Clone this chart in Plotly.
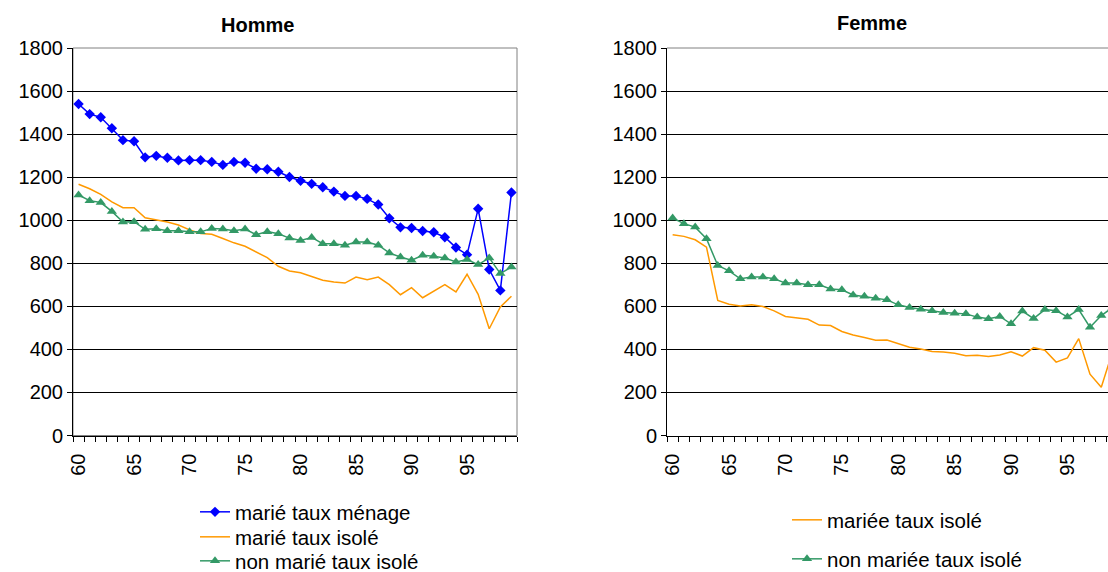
import plotly.graph_objects as go

W, H = 1108, 572

ages = list(range(60, 100))
tick_labels = ["60", "65", "70", "75", "80", "85", "90", "95"]
tick_vals = [60, 65, 70, 75, 80, 85, 90, 95]

homme_marie_menage = [1540, 1493, 1478, 1427, 1372, 1367, 1292, 1299, 1290, 1278,
                      1279, 1279, 1271, 1257, 1271, 1267, 1239, 1237, 1225, 1201,
                      1183, 1169, 1153, 1133, 1113, 1113, 1099, 1073, 1009, 967,
                      964, 950, 944, 921, 873, 840, 1053, 771, 674, 1129]
homme_marie_isole = [1167, 1146, 1120, 1085, 1058, 1058, 1011, 1003, 992, 978,
                     955, 938, 935, 915, 895, 879, 853, 826, 786, 764,
                     756, 738, 721, 713, 708, 736, 724, 736, 701, 654,
                     687, 640, 670, 701, 667, 749, 656, 496, 597, 647]
homme_non_marie_isole = [1117, 1091, 1082, 1041, 992, 993, 958, 960, 951, 951,
                         946, 946, 961, 959, 951, 959, 933, 947, 937, 917,
                         906, 920, 891, 891, 884, 899, 899, 884, 848, 829,
                         814, 837, 833, 825, 806, 817, 794, 825, 752, 783]

femme_mariee_isole = [933, 925, 909, 875, 627, 610, 602, 607, 599, 579,
                      553, 547, 540, 513, 511, 483, 467, 455, 443, 444,
                      426, 410, 402, 390, 388, 382, 370, 373, 367, 374,
                      389, 369, 408, 396, 341, 360, 450, 285, 224, 390]
femme_non_mariee_isole = [1010, 984, 968, 914, 790, 765, 728, 736, 736, 728,
                          708, 708, 700, 700, 681, 677, 653, 647, 638, 630,
                          607, 595, 587, 579, 571, 568, 565, 550, 542, 553,
                          519, 578, 543, 585, 580, 551, 585, 503, 557, 595]

BLUE = "#0000FF"
ORANGE = "#FF9900"
GREEN = "#339966"
FONT = "Liberation Sans, Arial, sans-serif"
FS = 20
LFS = 20.5

fig = go.Figure()

fig.add_trace(go.Scatter(x=ages, y=homme_marie_menage, name="marié taux ménage",
                         mode="lines+markers", line=dict(color=BLUE, width=1.5),
                         marker=dict(symbol="diamond", size=8, color=BLUE),
                         xaxis="x", yaxis="y", legend="legend", showlegend=True))
fig.add_trace(go.Scatter(x=ages, y=homme_marie_isole, name="marié taux isolé",
                         mode="lines", line=dict(color=ORANGE, width=1.5),
                         xaxis="x", yaxis="y", legend="legend3", showlegend=True))
fig.add_trace(go.Scatter(x=ages, y=homme_non_marie_isole, name="non marié taux isolé",
                         mode="lines+markers", line=dict(color=GREEN, width=1.5),
                         marker=dict(symbol="triangle-up", size=9, color=GREEN),
                         xaxis="x", yaxis="y", legend="legend4", showlegend=True))

fig.add_trace(go.Scatter(x=ages, y=femme_mariee_isole, name="mariée taux isolé",
                         mode="lines", line=dict(color=ORANGE, width=1.5),
                         xaxis="x2", yaxis="y2", legend="legend2", showlegend=True))
fig.add_trace(go.Scatter(x=ages, y=femme_non_mariee_isole, name="non mariée taux isolé",
                         mode="lines+markers", line=dict(color=GREEN, width=1.5),
                         marker=dict(symbol="triangle-up", size=9, color=GREEN),
                         xaxis="x2", yaxis="y2", legend="legend5", showlegend=True))

ydom = [1 - 435.5 / H, 1 - 48 / H]

def xaxis_cfg(domain, rng):
    return dict(domain=domain, range=rng, showgrid=False, zeroline=False,
                showline=True, linecolor="black", linewidth=1,
                tickmode="array", tickvals=tick_vals, ticktext=tick_labels,
                ticks="", tickangle=-90, ticklabelstandoff=9,
                tickfont=dict(family=FONT, size=FS, color="black"),
                minor=dict(tickmode="linear", tick0=59.5, dtick=1, ticks="outside",
                           ticklen=5, tickcolor="black", tickwidth=1, showgrid=False))

def yaxis_cfg(anchor):
    return dict(domain=ydom, range=[0, 1800], dtick=200, tick0=0, anchor=anchor,
                showgrid=True, gridcolor="black", gridwidth=1, zeroline=False,
                showline=True, linecolor="black", linewidth=1,
                ticks="outside", ticklen=5, tickcolor="black",
                tickfont=dict(family=FONT, size=FS, color="black"))

def leg(xpx, ypx):
    return dict(x=xpx / W, y=1 - ypx / H, xanchor="left", yanchor="middle",
                font=dict(family=FONT, size=LFS, color="black"),
                bgcolor="rgba(0,0,0,0)", borderwidth=0, visible=True)

fig.update_layout(
    width=W, height=H, autosize=False, showlegend=True,
    margin=dict(l=0, r=0, t=0, b=0, pad=0, autoexpand=False),
    paper_bgcolor="white", plot_bgcolor="white",
    font=dict(family=FONT, size=FS, color="black"),
    xaxis=dict(**xaxis_cfg([73 / W, 517 / W], [59.5, 99.5]), anchor="y"),
    yaxis=yaxis_cfg("x"),
    xaxis2=dict(**xaxis_cfg([667 / W, 1.0], [59.5, 59.5 + 441 / 11.28]), anchor="y2"),
    yaxis2=yaxis_cfg("x2"),
    legend=leg(195, 512),
    legend3=leg(195, 537),
    legend4=leg(195, 561),
    legend2=leg(787, 520),
    legend5=leg(787, 559),
    annotations=[
        dict(text="<b>Homme</b>", x=257 / W, y=1 - 25 / H, xref="paper", yref="paper",
             xanchor="center", yanchor="middle", showarrow=False,
             font=dict(family=FONT, size=FS, color="black")),
        dict(text="<b>Femme</b>", x=872 / W, y=1 - 23 / H, xref="paper", yref="paper",
             xanchor="center", yanchor="middle", showarrow=False,
             font=dict(family=FONT, size=FS, color="black")),
    ],
    shapes=[
        dict(type="rect", xref="x domain", yref="y domain", x0=0, x1=1, y0=0, y1=1,
             line=dict(color="#808080", width=1), layer="below"),
        dict(type="line", xref="x2 domain", yref="y2 domain", x0=0, x1=1, y0=1, y1=1,
             line=dict(color="#808080", width=1), layer="below"),
    ],
)

fig.write_html("out.html")
